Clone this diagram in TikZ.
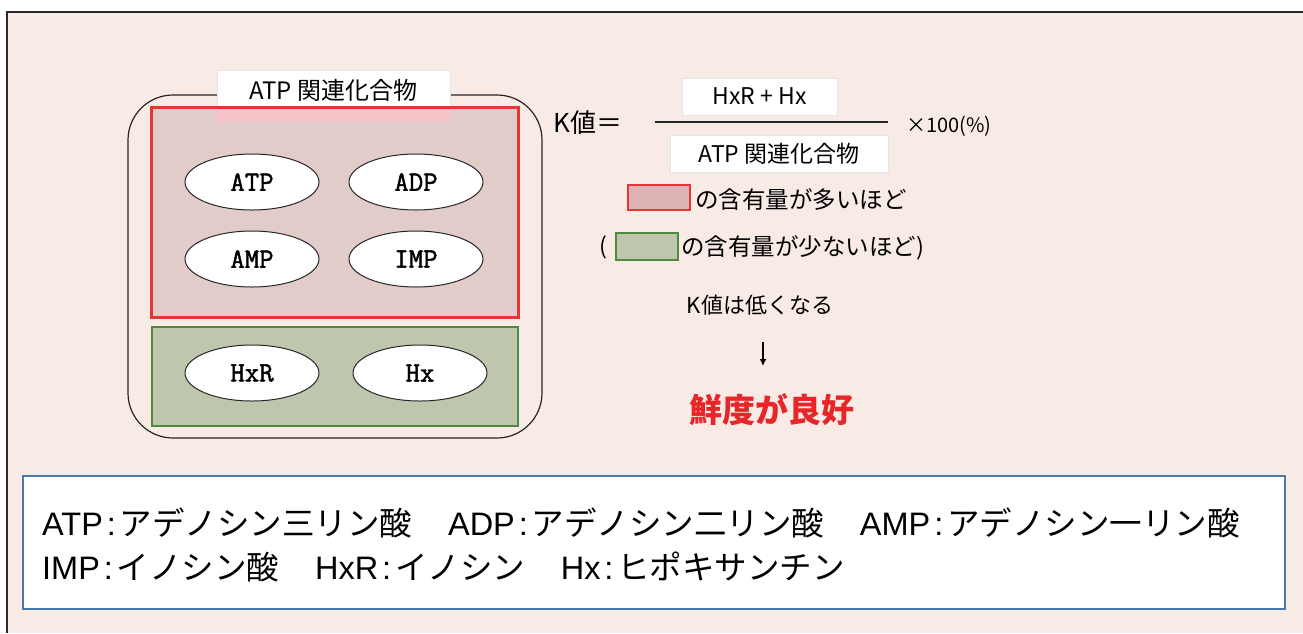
\documentclass[tikz,border=0pt]{standalone}
\usepackage{fontspec}
\setmainfont{Noto Sans CJK JP}
\newfontfamily\jpfont{Noto Sans CJK JP}
\newfontfamily\latfont{Liberation Sans}
\newfontfamily\monofont[FakeBold=1.6]{Latin Modern Mono}
\usetikzlibrary{shapes.geometric,arrows.meta}
\definecolor{bgpink}{HTML}{F8EBE6}
\definecolor{frameline}{HTML}{2A2A2A}
\definecolor{redline}{HTML}{E53535}
\definecolor{redfill}{HTML}{E2CCCA}
\definecolor{legredfill}{HTML}{DDB3B5}
\definecolor{greenline}{HTML}{4E8A3E}
\definecolor{greenfill}{HTML}{BEC7AE}
\definecolor{blueline}{HTML}{4A78A8}
\definecolor{labelpink}{HTML}{F5C3C8}
\definecolor{redtext}{HTML}{E8262A}
\newcommand{\fsz}[1]{\fontsize{#1}{#1}\selectfont}
\newcommand{\abbr}[1]{{\latfont #1\hspace{0.12em}:\hspace{0.12em}}}
\newcommand{\gap}{\hspace{1.1em}}
\tikzset{
  outerbox/.style={draw=black!85, line width=1.2pt, rounded corners=45pt, minimum width=414pt, minimum height=343pt, inner sep=0pt},
  redbox/.style={fill=redfill, minimum width=366pt, minimum height=209pt, inner sep=0pt},
  redborder/.style={draw=redline, line width=2.8pt},
  greenbox/.style={draw=greenline, fill=greenfill, line width=2.8pt, minimum width=366pt, minimum height=99pt, inner sep=0pt},
  molecule/.style={ellipse, draw=black!85, line width=1pt, fill=white, minimum width=134pt, minimum height=56pt, inner sep=0pt, font=\monofont\fsz{28}},
  labelbox/.style={fill=white, draw=black!10, line width=0.6pt, inner sep=0pt},
  fracbox/.style={fill=white, draw=black!10, line width=0.6pt, inner sep=0pt, minimum height=37pt, font=\jpfont\fsz{23}},
  txt/.style={inner sep=0pt, font=\jpfont\fsz{23}},
  legredbox/.style={draw=redline, fill=legredfill, line width=2pt, minimum width=62pt, minimum height=25pt, inner sep=0pt},
  leggreenbox/.style={draw=greenline, fill=greenfill, line width=2pt, minimum width=62pt, minimum height=27pt, inner sep=0pt},
  bluebox/.style={draw=blueline, fill=white, line width=2.5pt, minimum width=1262pt, minimum height=133pt, inner sep=0pt},
}
\begin{document}
\begin{tikzpicture}[x=1pt,y=-1pt]
\useasboundingbox (0,0) rectangle (1303,633);
\fill[white] (0,0) rectangle (1303,633);
\fill[bgpink] (7,12) rectangle (1303,633);
\draw[frameline, line width=2.5pt] (7,633) -- (7,12) -- (1303,12);

% group of ATP-related compounds
\node[outerbox] (group) at (335,266.5) {};
\node[redbox] (atpgroup) at (335,212.5) {};
\node[greenbox] (hxgroup) at (335,376.5) {};
\node[labelbox, minimum width=233pt, minimum height=38pt] (label) at (333.5,89) {};
\fill[labelpink] (217,108) rectangle (450,122);
\draw[redborder] (atpgroup.north west) rectangle (atpgroup.south east);
\node[txt, font=\jpfont\fsz{24}] (labeltext) at (333.5,90) {ATP 関連化合物};

\node[molecule] (atp) at (252,182) {ATP};
\node[molecule] (adp) at (416,182) {ADP};
\node[molecule] (amp) at (252,259) {AMP};
\node[molecule] (imp) at (416,259) {IMP};
\node[molecule] (hxr) at (252,373) {HxR};
\node[molecule] (hx)  at (420,373) {Hx};

% K value formula
\node[txt, anchor=west, font=\jpfont\fsz{26}] (kval) at (553,123) {K値＝};
\coordinate (fracL) at (655,122);
\coordinate (fracR) at (888,122);
\draw[black!85, line width=1.8pt] (fracL) -- (fracR);
\node[fracbox, minimum width=155pt] (num) at (759.5,96.5) {HxR + Hx};
\node[fracbox, minimum width=218pt] (den) at (779,153.5) {ATP 関連化合物};
\node[txt, anchor=west, font=\jpfont\fsz{20}] (times) at (906,126) {×100(\%)};

% legend
\node[legredbox] (legred) at (658.5,197.5) {};
\node[txt, anchor=west, font=\jpfont\fsz{23.5}] (legredtext) at (695,200) {の含有量が多いほど};
\node[txt, font=\jpfont\fsz{23}] (paren) at (603,247) {(};
\node[leggreenbox] (leggreen) at (647,246.5) {};
\node[txt, anchor=west, font=\jpfont\fsz{23.5}] (leggreentext) at (681,248) {の含有量が少ないほど)};

\node[txt, font=\jpfont\fsz{22}] (lower) at (760,305) {K値は低くなる};
\coordinate (arrA) at (763,342);
\coordinate (arrB) at (763,366);
\draw[black, line width=1.6pt, -{Latex[length=7pt,width=7pt]}] (arrA) -- (arrB);
\node[txt, font=\jpfont\bfseries\fsz{33}, text=redtext] (fresh) at (772,410) {鮮度が良好};

% abbreviations
\node[bluebox] (abbr) at (654,542.5) {};
\node[txt, anchor=west, font=\jpfont\fsz{32.5}] (line1) at (42,523) {\abbr{ATP}アデノシン三リン酸\gap\abbr{ADP}アデノシン二リン酸\gap\abbr{AMP}アデノシン一リン酸};
\node[txt, anchor=west, font=\jpfont\fsz{32.5}] (line2) at (42,567) {\abbr{IMP}イノシン酸\gap\abbr{HxR}イノシン\gap\abbr{Hx}ヒポキサンチン};
\end{tikzpicture}
\end{document}
